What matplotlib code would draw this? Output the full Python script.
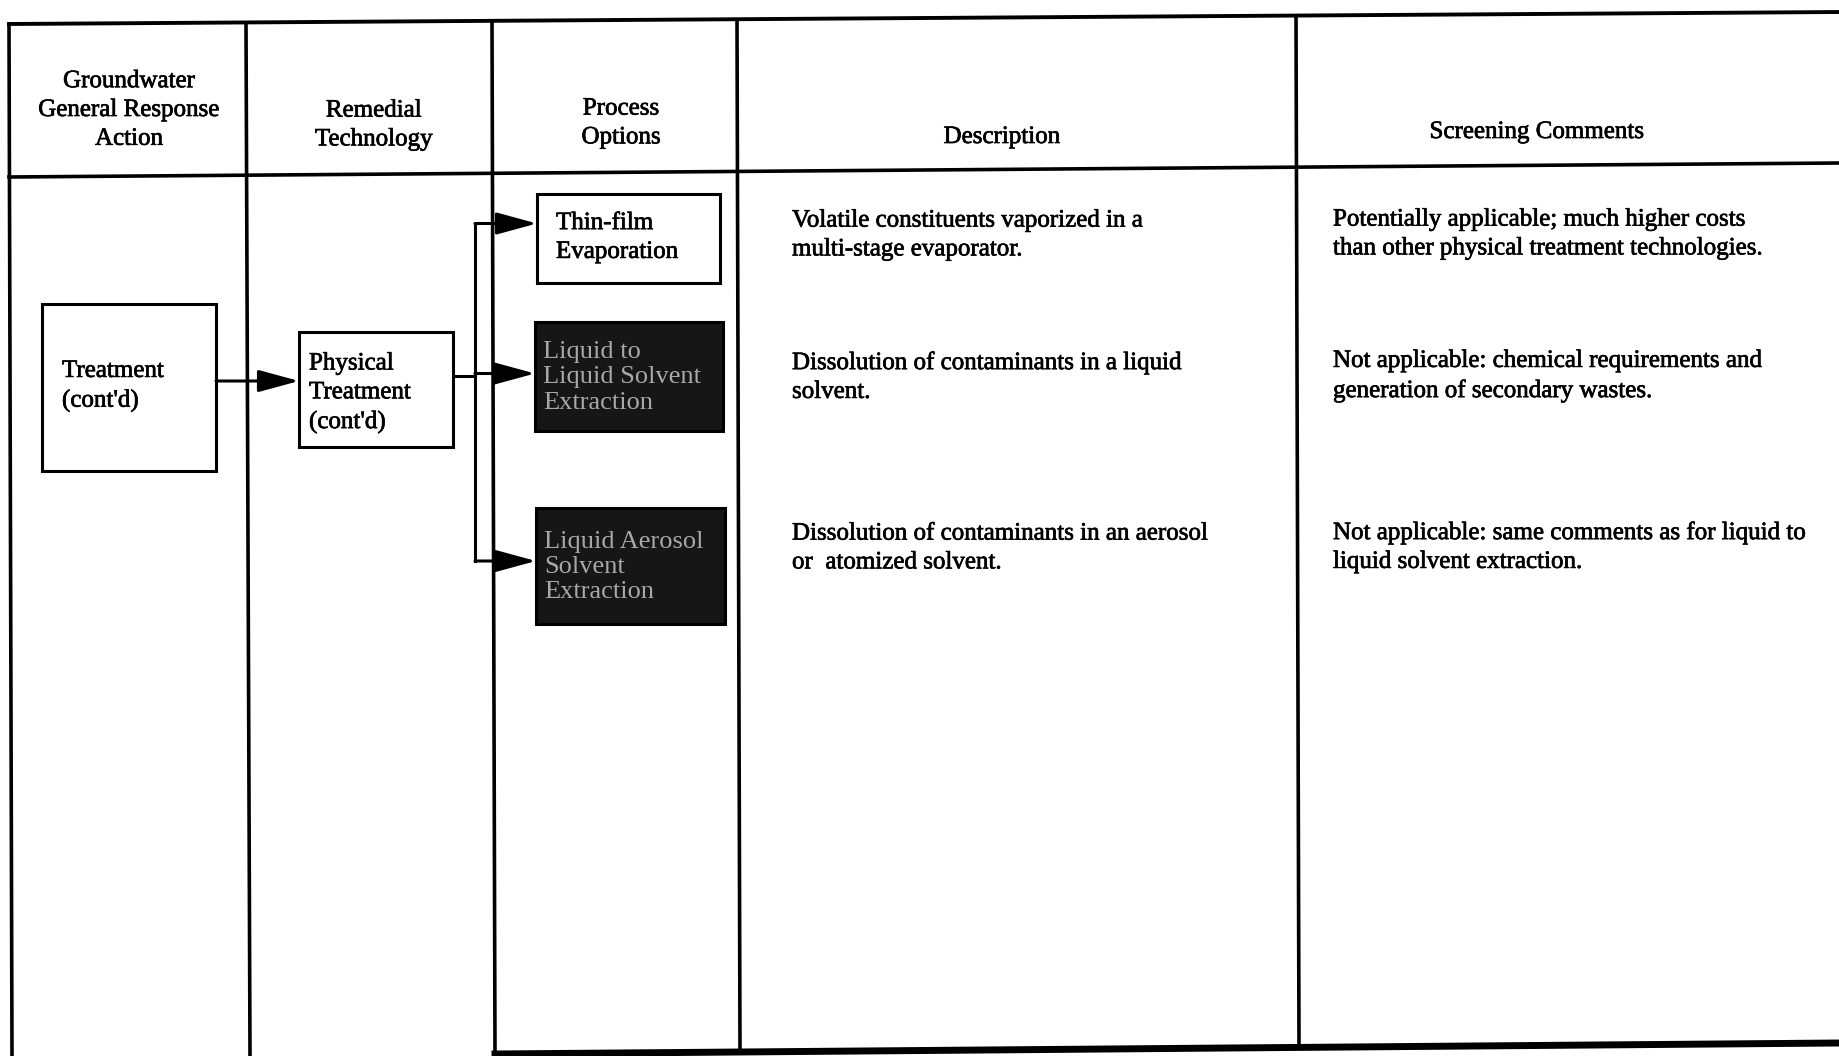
import matplotlib
matplotlib.use("Agg")
import matplotlib.pyplot as plt
from matplotlib.patches import Rectangle
import matplotlib.patheffects as pe

# ---- content ----
headers = ["Groundwater\nGeneral Response\nAction", "Remedial\nTechnology",
           "Process\nOptions", "Description", "Screening Comments"]
response_action = "Treatment\n(cont'd)"
technology = "Physical\nTreatment\n(cont'd)"
process_options = ["Thin-film\nEvaporation",
                   "Liquid to\nLiquid Solvent\nExtraction",
                   "Liquid Aerosol\nSolvent\nExtraction"]
option_screened_out = [False, True, True]
descriptions = ["Volatile constituents vaporized in a\nmulti-stage evaporator.",
                "Dissolution of contaminants in a liquid\nsolvent.",
                "Dissolution of contaminants in an aerosol\nor  atomized solvent."]
comments = ["Potentially applicable; much higher costs\nthan other physical treatment technologies.",
            "Not applicable: chemical requirements and\ngeneration of secondary wastes.",
            "Not applicable: same comments as for liquid to\nliquid solvent extraction."]

# ---- layout (pixel space) ----
W, H = 1840, 1056
fig = plt.figure(figsize=(W / 100, H / 100), dpi=100)
ax = fig.add_axes([0, 0, 1, 1])
ax.set_xlim(0, W)
ax.set_ylim(H, 0)
ax.axis("off")

FONT = "Liberation Serif"
FS = 18.0
LS = 1.4
k = "black"
ink = [pe.withStroke(linewidth=0.5, foreground="black")]

def txt(x, y, s, ha="left", color=k, effects=ink, fs=FS, ls=LS):
    ax.text(x, y, s, ha=ha, va="center", family=FONT, fontsize=fs,
            linespacing=ls, color=color, zorder=4, path_effects=effects)

# table grid (slightly skewed like the scan)
col_top = [(9, 24), (246, 22), (492, 20), (737, 19), (1296, 14)]
col_bot = [(12, 1056), (250, 1056), (495, 1054), (740, 1052), (1299, 1046)]
for (xt, yt), (xb, yb) in zip(col_top, col_bot):
    ax.plot([xt, xb], [yt, yb], color=k, lw=2.6, solid_capstyle="butt")
ax.plot([9, 1840], [24, 12], color=k, lw=2.8)
ax.plot([9, 1840], [177, 163], color=k, lw=2.6)
ax.plot([495, 1840], [1054, 1043], color=k, lw=5.0)

# headers
hdr_pos = [(129, 110), (374, 125), (621, 123), (1002, 137), (1537, 132)]
for s, (x, y) in zip(headers, hdr_pos):
    txt(x, y, s, ha="center")

# boxes
def box(x0, y0, x1, y1, dark=False):
    ax.add_patch(Rectangle((x0, y0), x1 - x0, y1 - y0,
                           facecolor="#161616" if dark else "white",
                           edgecolor=k, lw=2.2, zorder=3))

box(42, 304, 216, 471)
txt(62, 386, response_action)
box(299, 332, 453, 447)
txt(309, 393, technology)

opt_boxes = [(537, 194, 720, 283), (535, 322, 723, 431), (536, 508, 725, 624)]
for s, out, (x0, y0, x1, y1) in zip(process_options, option_screened_out, opt_boxes):
    box(x0, y0, x1, y1, dark=out)
    if out:
        txt(x0 + 8, (y0 + y1) / 2 + 1, s, color="#a8a8a8", effects=None,
            fs=19.0, ls=1.2)
    else:
        txt(x0 + 19, (y0 + y1) / 2 - 1, s)

# arrows
arrow_kw = dict(arrowstyle="-|>,head_length=1.25,head_width=0.34", color=k,
                lw=2.2, shrinkA=0, shrinkB=0, mutation_scale=20)
ax.annotate("", xy=(299, 381), xytext=(216, 381), arrowprops=arrow_kw, zorder=5)
ax.plot([453, 475], [376, 376], color=k, lw=2.2)
branch_y = [(y0 + y1) / 2 + d for (x0, y0, x1, y1), d in zip(opt_boxes, [-15, -3, -5])]
ax.plot([475, 475], [branch_y[0], branch_y[2]], color=k, lw=2.2)
for (x0, y0, x1, y1), by in zip(opt_boxes, branch_y):
    ax.annotate("", xy=(x0, by), xytext=(475, by), arrowprops=arrow_kw, zorder=5)

# description and comments
row_y = [235, 377, 548]
for d, c, y in zip(descriptions, comments, row_y):
    txt(792, y, d)
    txt(1333, y - 1, c)

fig.savefig("out.png", dpi=100, facecolor="white")
